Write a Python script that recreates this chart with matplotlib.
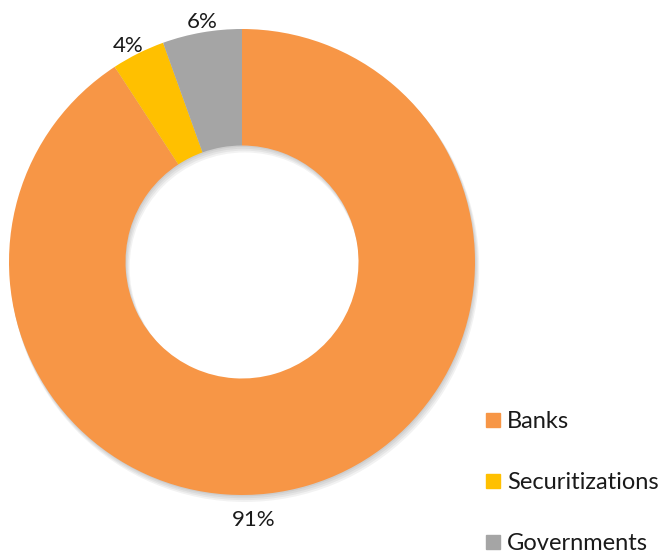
import matplotlib
matplotlib.use('Agg')
import matplotlib.pyplot as plt
from matplotlib.lines import Line2D

categories = ['Banks', 'Securitizations', 'Governments']
shares = [90.8, 3.7, 5.5]
labels = ['91%', '4%', '6%']
colors = ['#F79646', '#FFC000', '#A5A5A5']

plt.rcParams['font.family'] = ['Lato', 'DejaVu Sans']

fig = plt.figure(figsize=(6.66, 5.57), dpi=100)
# square axes so the ring keeps its shape
ax = fig.add_axes([9 / 666, 62 / 557, 466 / 666, 466 / 557])

# soft shadow under the ring
for i in range(4):
    off = 0.006 * (i + 1)
    ax.pie([1], radius=1.0 + 0.002 * i, center=(off * 0.5, -off),
           colors=['#000000'], wedgeprops=dict(width=0.5 + 0.004 * i, alpha=0.05, linewidth=0))

wedges, _ = ax.pie(shares, colors=colors, startangle=90, counterclock=False,
                   wedgeprops=dict(width=0.5, linewidth=0))

# label positions (data coords, picked to match the reference)
label_pos = [(0.05, -1.107), (-0.489, 0.927), (-0.172, 1.03)]
for (x, y), txt in zip(label_pos, labels):
    ax.text(x, y, txt, ha='center', va='center', fontsize=16, color='#1a1a1a', clip_on=False)

ax.set_xlim(-1, 1)
ax.set_ylim(-1, 1)
ax.set_aspect('equal')
ax.axis('off')

handles = [Line2D([], [], marker='s', linestyle='none', markersize=9.4,
                  markerfacecolor=c, markeredgecolor=c) for c in colors]
leg = fig.legend(handles, categories, loc='upper left', bbox_to_anchor=(486 / 666, 1 - 411 / 557),
                 frameon=False, fontsize=17, labelspacing=1.7, handlelength=0.6,
                 handletextpad=0.3, borderaxespad=0, borderpad=0)
for t in leg.get_texts():
    t.set_color('#1a1a1a')

fig.savefig('out.png', dpi=100)
